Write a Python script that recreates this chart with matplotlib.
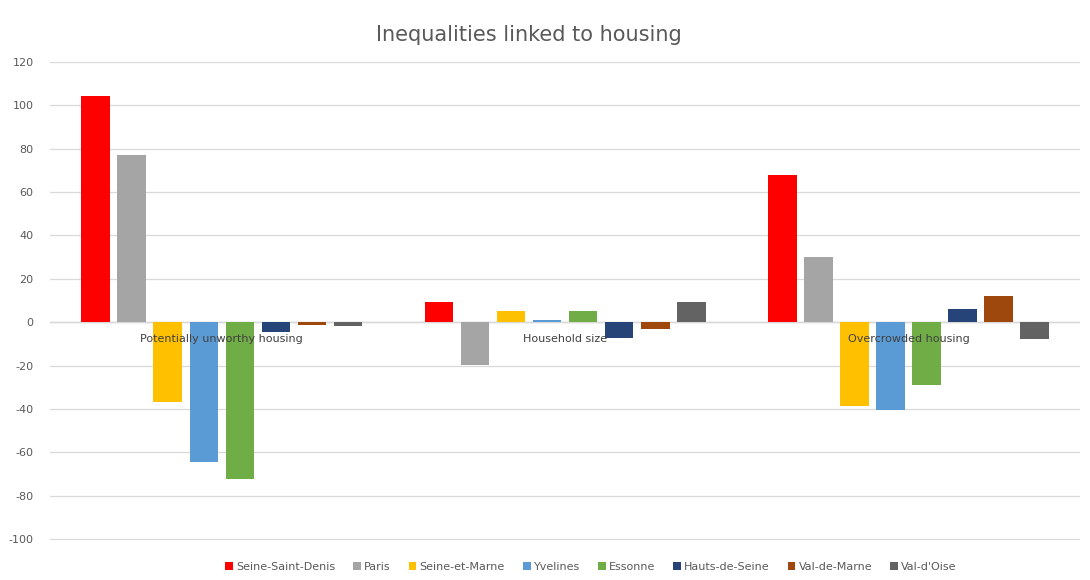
import matplotlib.pyplot as plt
import numpy as np

plt.rcParams['axes.unicode_minus'] = False

categories = ['Potentially unworthy housing', 'Household size', 'Overcrowded housing']
departments = ['Seine-Saint-Denis', 'Paris', 'Seine-et-Marne', 'Yvelines',
               'Essonne', 'Hauts-de-Seine', 'Val-de-Marne', "Val-d'Oise"]
colors = ['#FF0000', '#A5A5A5', '#FFC000', '#5B9BD5',
          '#70AD47', '#264478', '#9E480E', '#636363']

seine_saint_denis = [104.5, 9.5, 68]
paris = [77.2, -19.8, 29.9]
seine_et_marne = [-36.8, 5.3, -38.6]
yvelines = [-64.4, 1.0, -40.5]
essonne = [-72.2, 5.3, -29]
hauts_de_seine = [-4.4, -7.4, 6]
val_de_marne = [-1.5, -3.1, 12]
val_d_oise = [-1.6, 9.5, -8]

series = [seine_saint_denis, paris, seine_et_marne, yvelines,
          essonne, hauts_de_seine, val_de_marne, val_d_oise]

fig = plt.figure(figsize=(10.9, 5.8), dpi=100)
ax = fig.add_axes([0.046, 0.069, 0.945, 0.824])

x = np.arange(len(categories))
slot = 0.105
width = 0.083
for i, (name, vals, col) in enumerate(zip(departments, series, colors)):
    ax.bar(x + (i - 3.5) * slot, vals, width, color=col, label=name, zorder=3)

ax.set_xlim(-0.5, 2.5)
ax.set_ylim(-100.5, 120)
ax.set_yticks(np.arange(-100, 121, 20))
ax.grid(axis='y', color='#D9D9D9', linewidth=0.9, zorder=0)
ax.axhline(0, color='#D0D0D0', linewidth=1.0, zorder=1)
ax.set_xticks([])
ax.tick_params(axis='y', length=0, labelsize=8, labelcolor='#595959', pad=12)
for s in ax.spines.values():
    s.set_visible(False)

for xi, cat in zip(x, categories):
    ax.text(xi, -5.5, cat, ha='center', va='top', fontsize=8, color='#404040', zorder=4)

fig.suptitle('Inequalities linked to housing', x=0.485, y=0.957, fontsize=15, color='#595959')

ax.legend(loc='upper center', bbox_to_anchor=(0.525, -0.025), ncol=8, frameon=False,
          fontsize=8, handlelength=0.7, handleheight=0.7, handletextpad=0.3,
          columnspacing=1.6, labelcolor='#595959')

fig.savefig('out.png', dpi=100)
